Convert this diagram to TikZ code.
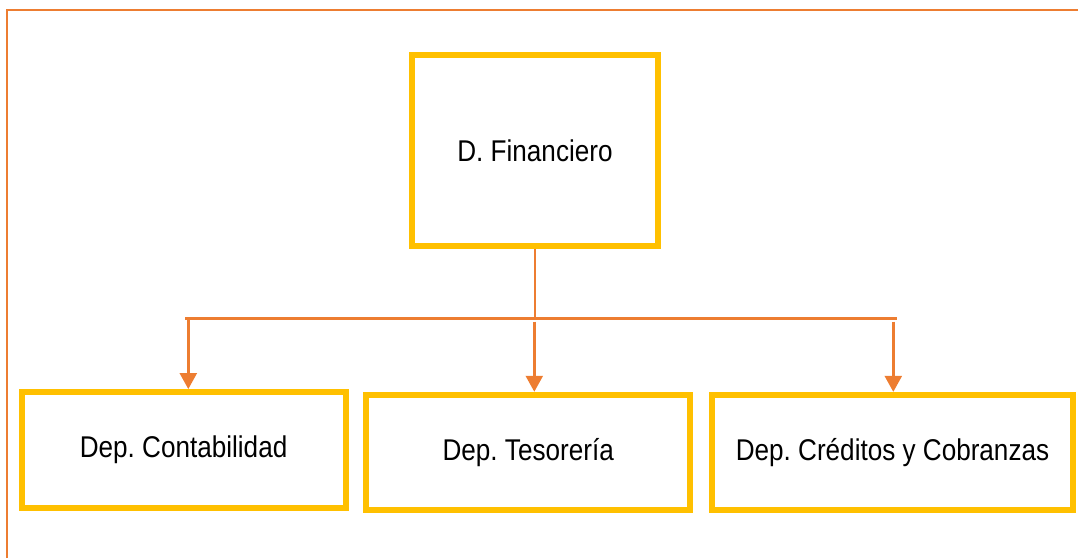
\documentclass[tikz,border=0pt]{standalone}
\usepackage{fontspec}
\newfontfamily\orgfont[FakeStretch=0.87]{Liberation Sans}
\usetikzlibrary{arrows.meta}
\definecolor{lineorange}{HTML}{ED7D31}
\definecolor{boxyellow}{HTML}{FFC000}
\frenchspacing
\begin{document}
\begin{tikzpicture}[x=1pt, y=-1pt,
    unit/.style={draw=boxyellow, line width=6pt, fill=white, inner sep=0pt,
        font=\orgfont\fontsize{30}{36}\selectfont},
    link/.style={draw=lineorange, line width=2.5pt},
    arrowlink/.style={link, -{Triangle[width=17pt,length=16pt]}}]
    \useasboundingbox (0,0) rectangle (1078,558);

    \draw[draw=lineorange, line width=2.4pt] (7,558) -- (7,10) -- (1078,10);

    \node[unit, minimum width=246pt, minimum height=191pt] (fin) at (535, 150.4) {D. Financiero};
    \node[unit, minimum width=324pt, minimum height=115.5pt] (cont) at (183.6, 449.8) {Dep. Contabilidad};
    \node[unit, minimum width=324pt, minimum height=115.5pt] (teso) at (528.2, 452.5) {Dep. Tesorería};
    \node[unit, minimum width=360.5pt, minimum height=115.5pt] (cred) at (892.5, 452.6) {Dep. Créditos y Cobranzas};

    \coordinate (barL) at (185, 318.3);
    \coordinate (barR) at (897, 318.3);
    \coordinate (a1) at (188.3, 318.3);
    \coordinate (a2) at (534.3, 321.5);
    \coordinate (a3) at (893.3, 321.5);

    \draw[link] (fin.south) -- (fin.south |- barL);
    \draw[link] (barL) -- (barR);
    \draw[arrowlink] (a1) -- (a1 |- cont.north);
    \draw[arrowlink] (a2) -- (a2 |- teso.north);
    \draw[arrowlink] (a3) -- (a3 |- cred.north);
\end{tikzpicture}
\end{document}
